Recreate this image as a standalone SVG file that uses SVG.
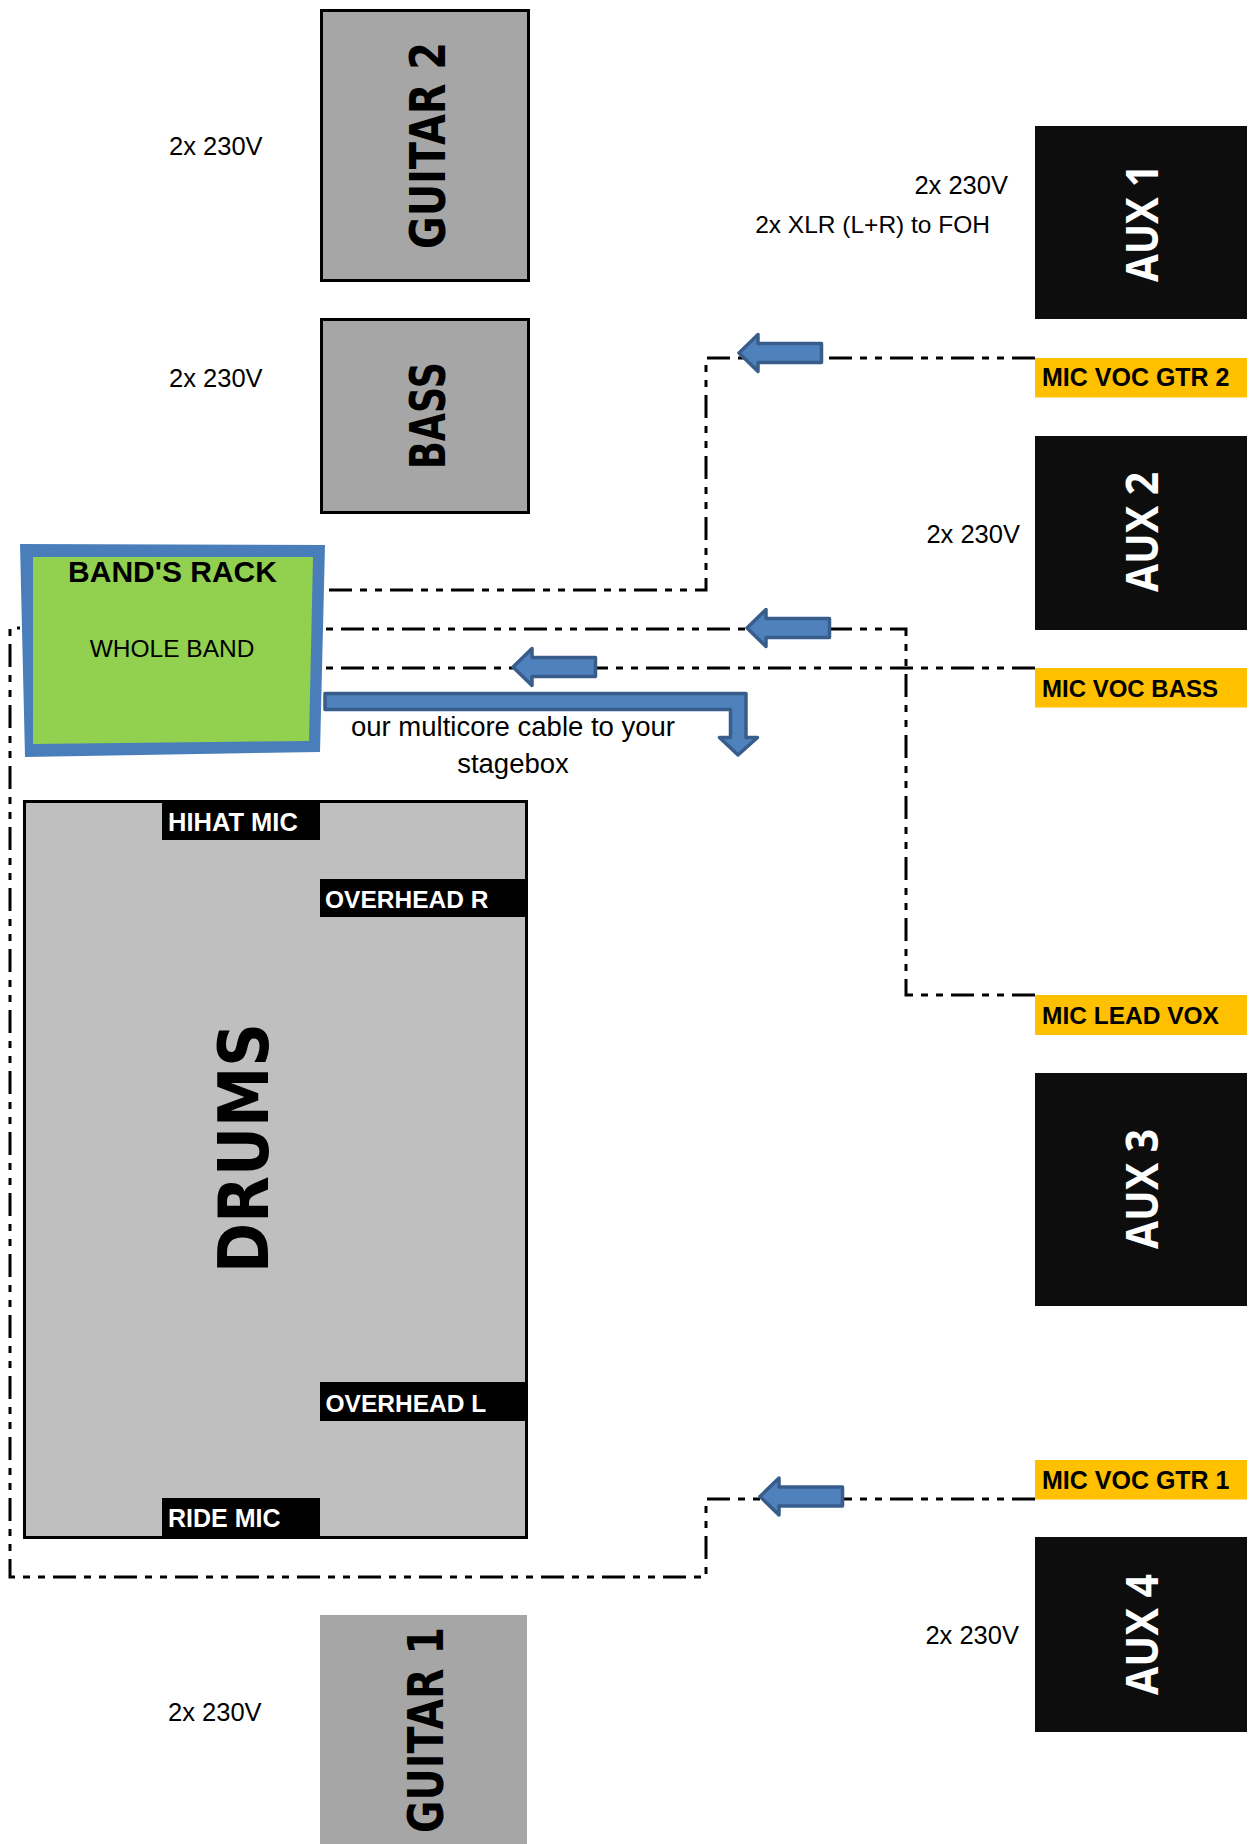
<svg xmlns="http://www.w3.org/2000/svg" xmlns:xlink="http://www.w3.org/1999/xlink" width="1255" height="1844" viewBox="0 0 1255 1844">
<style>
  text { font-family: "Liberation Sans", Arial, sans-serif; }
  .note { font-size: 25.5px; fill: #000; }
  .tagB { font-size: 24.5px; font-weight: bold; fill: #000; }
  .tagW { font-size: 24.5px; font-weight: bold; fill: #fff; }
  .big { font-family: "DejaVu Sans", Verdana, sans-serif; font-weight: bold; fill: #000; }
  .aux { font-family: "Open Sans", "Liberation Sans", sans-serif; font-weight: bold; fill: #fff; font-size: 44px; }
  .amp { fill: #a6a6a6; stroke: #000; stroke-width: 3; }
  .auxbox { fill: #0d0d0d; }
  .mic { fill: #ffc000; }
  .blk { fill: #000; }
  .conn { fill: none; stroke: #000; stroke-width: 3; stroke-dasharray: 23 8 7 8 7 8; }
  .arr { fill: #4f81bd; stroke: #385d8a; stroke-width: 3.5; stroke-linejoin: round; }
</style>
<defs>
  <path id="arrowL" d="M2 0 L21 -18.5 V -9.5 H 84.5 V 9.5 H 21 V 18.5 Z"/>
</defs>
<rect x="0" y="0" width="1255" height="1844" fill="#fff"/>

<g id="connectors">
  <path class="conn" d="M1035 358 H706 V590 H326"/>
  <path class="conn" d="M1035 995 H906 V629 H326"/>
  <path class="conn" d="M1035 668 H326"/>
  <path class="conn" d="M1035 1499 H706 V1577 H10 V628 H20"/>
  <use xlink:href="#arrowL" class="arr" transform="translate(737,353)"/>
  <use xlink:href="#arrowL" class="arr" transform="translate(745,628)"/>
  <use xlink:href="#arrowL" class="arr" transform="translate(511,667)"/>
  <use xlink:href="#arrowL" class="arr" transform="translate(758,1496.5)"/>
  <path class="arr" d="M325 693.5 H746 V737.5 H757.5 L738 755 L719.5 737.5 H730.5 V709.5 H325 Z"/>
  <text class="note" x="513" y="736" text-anchor="middle" style="font-size:27.5px">our multicore cable to your</text>
  <text class="note" x="513" y="773" text-anchor="middle" style="font-size:27.5px">stagebox</text>
</g>

<g id="guitar2">
  <rect class="amp" x="321.5" y="10.5" width="207" height="270"/>
  <text class="big" font-size="50" text-anchor="middle" textLength="207" lengthAdjust="spacingAndGlyphs" transform="translate(445,145.5) rotate(-90)">GUITAR 2</text>
  <text class="note" x="169" y="155">2x 230V</text>
</g>

<g id="bass">
  <rect class="amp" x="321.5" y="319.5" width="207" height="193"/>
  <text class="big" font-size="50" text-anchor="middle" textLength="107" lengthAdjust="spacingAndGlyphs" transform="translate(445,415.5) rotate(-90)">BASS</text>
  <text class="note" x="169" y="387">2x 230V</text>
</g>

<g id="rack">
  <polygon points="20,544 325,545 320,752 25,757" fill="#4a7ebb"/>
  <polygon points="33,557 313,557 309,741 33,744" fill="#92d050"/>
  <text x="172.5" y="582" text-anchor="middle" style="font-size:30px;font-weight:bold">BAND'S RACK</text>
  <text x="172" y="657" text-anchor="middle" style="font-size:24.5px">WHOLE BAND</text>
</g>

<g id="drums">
  <rect x="24.5" y="801.5" width="502" height="736" fill="#bfbfbf" stroke="#000" stroke-width="3"/>
  <text class="big" font-size="69" text-anchor="middle" textLength="250" lengthAdjust="spacingAndGlyphs" transform="translate(268,1148) rotate(-90)">DRUMS</text>
</g>

<g id="hihat-mic">
  <rect class="blk" x="162" y="803" width="158" height="37"/>
  <text class="tagW" x="168" y="831" style="font-size:25.5px">HIHAT MIC</text>
</g>
<g id="overhead-r">
  <rect class="blk" x="320" y="879" width="207" height="38"/>
  <text class="tagW" x="325" y="908">OVERHEAD R</text>
</g>
<g id="overhead-l">
  <rect class="blk" x="320" y="1382" width="207" height="39"/>
  <text class="tagW" x="325.5" y="1412">OVERHEAD L</text>
</g>
<g id="ride-mic">
  <rect class="blk" x="162" y="1498" width="158" height="39"/>
  <text class="tagW" x="168" y="1527" style="font-size:25px">RIDE MIC</text>
</g>

<g id="guitar1">
  <rect x="320" y="1615" width="207" height="229" fill="#a6a6a6"/>
  <text class="big" font-size="50" text-anchor="middle" textLength="206" lengthAdjust="spacingAndGlyphs" transform="translate(443,1730) rotate(-90)">GUITAR 1</text>
  <text class="note" x="168" y="1721">2x 230V</text>
</g>

<g id="aux1">
  <rect class="auxbox" x="1035" y="126" width="212" height="193"/>
  <text class="aux" text-anchor="middle" textLength="118" lengthAdjust="spacingAndGlyphs" transform="translate(1158,223) rotate(-90)">AUX 1</text>
  <text class="note" x="1008" y="194" text-anchor="end">2x 230V</text>
  <text class="note" x="990" y="233" text-anchor="end" style="font-size:24.5px">2x XLR (L+R) to FOH</text>
</g>

<g id="mic-voc-gtr2">
  <rect class="mic" x="1035" y="358" width="212" height="39.5"/>
  <text class="tagB" x="1042" y="386" style="font-size:25px">MIC VOC GTR 2</text>
</g>

<g id="aux2">
  <rect class="auxbox" x="1035" y="436" width="212" height="194"/>
  <text class="aux" text-anchor="middle" textLength="120" lengthAdjust="spacingAndGlyphs" transform="translate(1158,532) rotate(-90)">AUX 2</text>
  <text class="note" x="1020" y="543" text-anchor="end">2x 230V</text>
</g>

<g id="mic-voc-bass">
  <rect class="mic" x="1035" y="668" width="212" height="39.5"/>
  <text class="tagB" x="1042" y="697" style="font-size:24px">MIC VOC BASS</text>
</g>

<g id="mic-lead-vox">
  <rect class="mic" x="1035" y="995" width="212" height="40"/>
  <text class="tagB" x="1042" y="1024">MIC LEAD VOX</text>
</g>

<g id="aux3">
  <rect class="auxbox" x="1035" y="1073" width="212" height="233"/>
  <text class="aux" text-anchor="middle" textLength="120" lengthAdjust="spacingAndGlyphs" transform="translate(1158,1189) rotate(-90)">AUX 3</text>
</g>

<g id="mic-voc-gtr1">
  <rect class="mic" x="1035" y="1460" width="212" height="39.5"/>
  <text class="tagB" x="1042" y="1489" style="font-size:25px">MIC VOC GTR 1</text>
</g>

<g id="aux4">
  <rect class="auxbox" x="1035" y="1537" width="212" height="195"/>
  <text class="aux" text-anchor="middle" textLength="121" lengthAdjust="spacingAndGlyphs" transform="translate(1158,1634.5) rotate(-90)">AUX 4</text>
  <text class="note" x="1019" y="1644" text-anchor="end">2x 230V</text>
</g>
</svg>
